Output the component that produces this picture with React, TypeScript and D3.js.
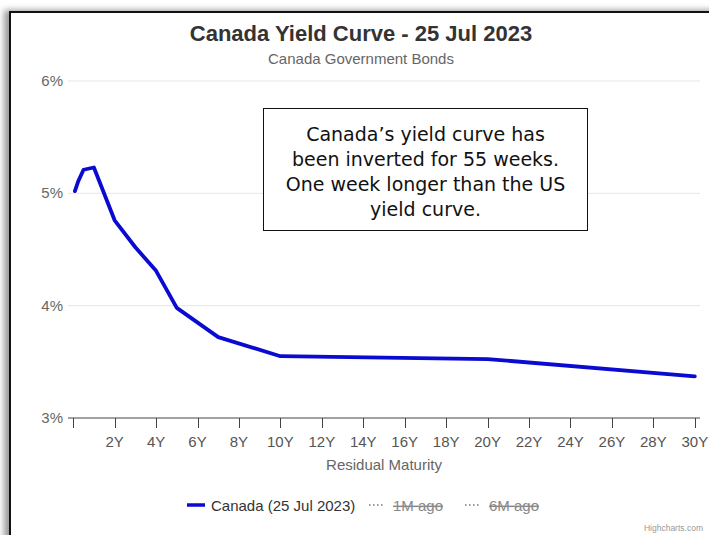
import React from 'react';
import * as d3 from 'd3';

// ---- data ----
const maturities = [0.083, 0.25, 0.5, 1, 2, 3, 4, 5, 7, 10, 20, 30];
const yields = [5.02, 5.11, 5.21, 5.23, 4.76, 4.52, 4.31, 3.98, 3.72, 3.55, 3.525, 3.37];
const xTicks = [0, 2, 4, 6, 8, 10, 12, 14, 16, 18, 20, 22, 24, 26, 28, 30];
const xTickLabels = ['', '2Y', '4Y', '6Y', '8Y', '10Y', '12Y', '14Y', '16Y', '18Y', '20Y', '22Y', '24Y', '26Y', '28Y', '30Y'];
const yTicks = [3, 4, 5, 6];
const yTickLabels = ['3%', '4%', '5%', '6%'];
const legendNames = ['Canada (25 Jul 2023)', '1M ago', '6M ago'];
const noteLines = [
  'Canada\u2019s yield curve has',
  'been inverted for 55 weeks.',
  'One week longer than the US',
  'yield curve.',
];
const titleText = 'Canada Yield Curve - 25 Jul 2023';
const subtitleText = 'Canada Government Bonds';
const xAxisTitle = 'Residual Maturity';

const W = 709;
const H = 535;
const plot = { left: 68, right: 700, top: 81, bottom: 418 };
const font = '"Liberation Sans", Arial, Helvetica, sans-serif';

export default function App() {
  const x = d3.scaleLinear().domain([-0.25, 30.25]).range([plot.left, plot.right]);
  const y = d3.scaleLinear().domain([3, 6]).range([plot.bottom, plot.top]);
  const pts: [number, number][] = maturities.map((m, i) => [m, yields[i]]);
  const line = d3
    .line<[number, number]>()
    .x((d) => x(d[0]))
    .y((d) => y(d[1]));

  const legendX = [187, 369, 465];
  const legendY = 506;

  return (
    <svg
      width={W}
      height={H}
      viewBox={`0 0 ${W} ${H}`}
      style={{ position: 'absolute', left: 0, top: 0, display: 'block', background: '#fff' }}
    >
      <defs>
        <filter id="sh" x="-20%" y="-20%" width="140%" height="140%">
          <feGaussianBlur stdDeviation="3" />
        </filter>
      </defs>
      <rect x={0} y={0} width={W} height={H} fill="#fff" />
      {/* frame shadow */}
      <rect x={4} y={10} width={W + 20} height={H + 20} fill="#9a9a9a" filter="url(#sh)" />
      <rect x={10} y={12} width={W + 20} height={H + 20} fill="#fff" stroke="#111" strokeWidth={2} />

      {/* titles */}
      <text x={361} y={41} textAnchor="middle" fontFamily={font} fontSize={22} fontWeight="bold" fill="#333">
        {titleText}
      </text>
      <text x={361} y={64} textAnchor="middle" fontFamily={font} fontSize={15} fill="#666">
        {subtitleText}
      </text>

      {/* grid */}
      {yTicks.slice(1).map((t) => (
        <line key={t} x1={plot.left} x2={plot.right} y1={y(t)} y2={y(t)} stroke="#e6e6e6" strokeWidth={1} />
      ))}
      {yTicks.map((t, i) => (
        <text key={t} x={63} y={y(t) + 5} textAnchor="end" fontFamily={font} fontSize={15} fill="#666">
          {yTickLabels[i]}
        </text>
      ))}

      {/* x axis */}
      <line x1={plot.left} x2={plot.right} y1={plot.bottom} y2={plot.bottom} stroke="#444" strokeWidth={1} />
      {xTicks.map((t, i) => (
        <g key={t}>
          <line x1={Math.round(x(t)) + 0.5} x2={Math.round(x(t)) + 0.5} y1={plot.bottom} y2={plot.bottom + 10} stroke="#444" strokeWidth={1} />
          <text x={x(t)} y={plot.bottom + 29} textAnchor="middle" fontFamily={font} fontSize={15} fill="#555">
            {xTickLabels[i]}
          </text>
        </g>
      ))}
      <text x={(plot.left + plot.right) / 2} y={470} textAnchor="middle" fontFamily={font} fontSize={15} fill="#666">
        {xAxisTitle}
      </text>

      {/* series */}
      <path d={line(pts) || ''} fill="none" stroke="#0a0ad0" strokeWidth={3.8} strokeLinejoin="round" strokeLinecap="round" />

      {/* annotation */}
      <rect x={263.5} y={108.5} width={324} height={122} fill="#fff" stroke="#111" strokeWidth={1} />
      {noteLines.map((l, i) => (
        <text key={i} x={425.5} y={141 + i * 25} textAnchor="middle" fontFamily='"DejaVu Sans", Verdana, sans-serif' fontSize={19} fill="#111">
          {l}
        </text>
      ))}

      {/* legend */}
      <line x1={legendX[0]} x2={legendX[0] + 18} y1={legendY - 1} y2={legendY - 1} stroke="#0a0ad0" strokeWidth={3.5} />
      <text x={legendX[0] + 24} y={legendY + 5} fontFamily={font} fontSize={15} fill="#333">
        {legendNames[0]}
      </text>
      {[1, 2].map((k) => (
        <g key={k}>
          <line x1={legendX[k]} x2={legendX[k] + 16} y1={legendY - 1} y2={legendY - 1} stroke="#777" strokeWidth={1.5} strokeDasharray="1.5,2.5" />
          <text x={legendX[k] + 24} y={legendY + 5} fontFamily={font} fontSize={15} fill="#888" textDecoration="line-through">
            {legendNames[k]}
          </text>
        </g>
      ))}

      <text x={703} y={531} textAnchor="end" fontFamily={font} fontSize={8.5} fill="#999">
        Highcharts.com
      </text>
    </svg>
  );
}
